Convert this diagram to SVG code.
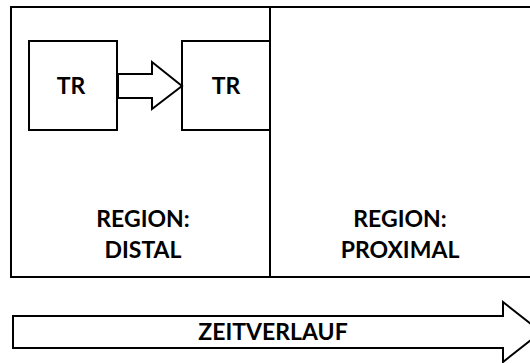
<svg xmlns="http://www.w3.org/2000/svg" width="530" height="363" viewBox="0 0 530 363">
<style>
.s{fill:#fff;stroke:#000;stroke-width:2;stroke-linejoin:miter}
.t{font-family:Lato,"Open Sans","Liberation Sans",sans-serif;font-weight:bold;font-size:23px;fill:#000;text-anchor:middle}
</style>
<rect width="530" height="363" fill="#fff"/>
<g id="frame">
<rect class="s" x="11" y="7" width="525" height="270"/>
<line class="s" x1="270" y1="7" x2="270" y2="277"/>
</g>
<g id="region-distal">
<text class="t" x="143" y="227">REGION:</text>
<text class="t" x="143" y="258">DISTAL</text>
</g>
<g id="region-proximal">
<text class="t" x="400" y="227">REGION:</text>
<text class="t" x="400" y="258">PROXIMAL</text>
</g>
<g id="tr1">
<rect class="s" x="29" y="41" width="88" height="89"/>
<text class="t" x="71" y="94">TR</text>
</g>
<g id="tr2">
<rect class="s" x="182" y="41" width="88" height="89"/>
<text class="t" x="226" y="94">TR</text>
</g>
<g id="connectors">
<path class="s" d="M118,74 H152 V62 L182,86 L152,109 V98 H118 Z"/>
</g>
<g id="zeitverlauf">
<path class="s" d="M13,316 H503 V302 L541,332 L503,362 V348 H13 Z"/>
<text class="t" x="273" y="340">ZEITVERLAUF</text>
</g>
</svg>
